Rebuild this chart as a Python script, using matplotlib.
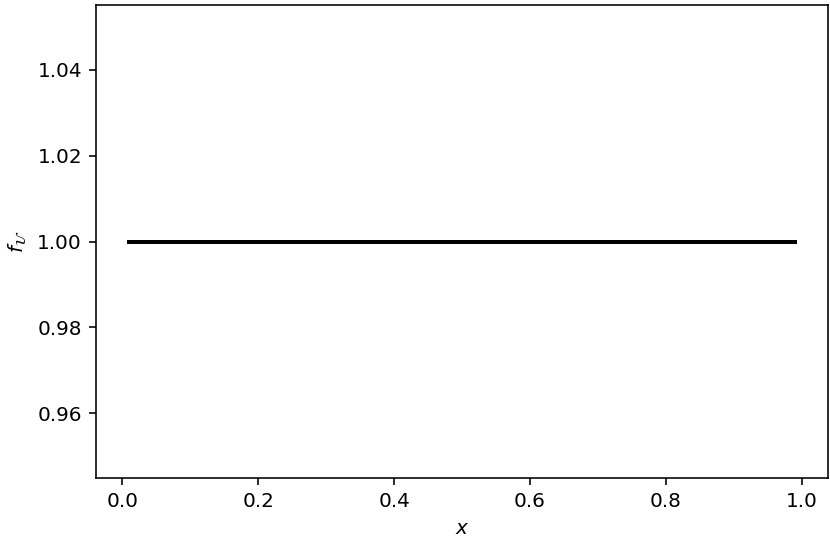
import matplotlib
matplotlib.use('Agg')
import matplotlib.pyplot as plt
import numpy as np

# data: constant f_U = 1 over x in [0.01, 0.99]
x = [0.01, 0.25, 0.5, 0.75, 0.99]
f_u = [1.0, 1.0, 1.0, 1.0, 1.0]

fig = plt.figure(figsize=(830/144, 540/144), dpi=144)
ax = fig.add_subplot(111)
fig.subplots_adjust(left=96/830, right=828/830, top=1 - 5/540, bottom=1 - 478/540)

ax.plot(x, f_u, color='black', linewidth=2.0)
ax.set_xlabel('$x$')
ax.set_ylabel(r'$f_{\mathcal{U}}$')

fig.savefig('out.png', dpi=144)
